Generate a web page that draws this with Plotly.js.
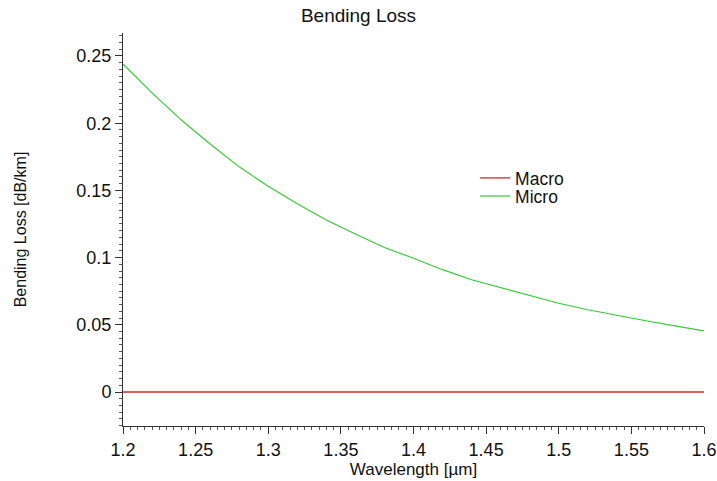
<!DOCTYPE html>
<html>
<head>
<meta charset="utf-8">
<script src="https://cdn.plot.ly/plotly-3.0.1.min.js"></script>
<style>html,body{margin:0;padding:0;background:#fff;}#chart{width:717px;height:481px;}</style>
</head>
<body>
<div id="chart"></div>
<script>
const wavelength = [1.20,1.22,1.24,1.26,1.28,1.30,1.32,1.34,1.36,1.38,1.40,1.42,1.44,1.46,1.48,1.50,1.52,1.54,1.56,1.58,1.60];
const microLoss = [0.244,0.2225,0.2025,0.1845,0.1675,0.1530,0.1400,0.1280,0.1175,0.1075,0.0995,0.0910,0.0835,0.0775,0.0715,0.0660,0.0612,0.0570,0.0530,0.0492,0.0455];
const macroLoss = [0,0,0,0,0,0,0,0,0,0,0,0,0,0,0,0,0,0,0,0,0];
const xTicks = [1.2,1.25,1.3,1.35,1.4,1.45,1.5,1.55,1.6];
const yTicks = [0,0.05,0.1,0.15,0.2,0.25];

const fam = 'Liberation Sans, Arial, sans-serif';
const col = '#111';
const traces = [
  {x: wavelength, y: macroLoss, name: 'Macro', mode: 'lines', legend: 'legend', line: {color: 'rgb(215,40,40)', width: 1.3}},
  {x: wavelength, y: microLoss, name: 'Micro', mode: 'lines', legend: 'legend2', line: {color: 'rgb(55,200,55)', width: 1.2}}
];
const legFont = {family: fam, size: 17.5, color: col};
const layout = {
  width: 717, height: 481,
  margin: {l: 123, r: 13, t: 33, b: 55},
  paper_bgcolor: '#fff', plot_bgcolor: '#fff',
  font: {family: fam, size: 18, color: col},
  title: {text: 'Bending Loss', font: {family: fam, size: 19, color: col}, x: 0.5, xanchor: 'center', y: 0.969, yanchor: 'middle'},
  showlegend: true,
  legend: {x: 0.606, y: 0.631, xanchor: 'left', yanchor: 'middle', bgcolor: 'rgba(0,0,0,0)', font: legFont, itemwidth: 30},
  legend2: {x: 0.606, y: 0.585, xanchor: 'left', yanchor: 'middle', bgcolor: 'rgba(0,0,0,0)', font: legFont, itemwidth: 30},
  xaxis: {
    range: [1.2, 1.6], tickvals: xTicks, ticktext: xTicks.map(String),
    showgrid: false, zeroline: false, showline: true, linecolor: '#333', linewidth: 1,
    ticks: 'outside', ticklen: 7, tickcolor: '#333',
    minor: {dtick: 0.005, ticks: 'outside', ticklen: 3, tickcolor: '#555', showgrid: false},
    title: {text: 'Wavelength [µm]', font: {family: fam, size: 17, color: col}, standoff: 3},
    tickfont: {family: fam, size: 18, color: col}
  },
  yaxis: {
    range: [-0.0253, 0.2671], tickvals: yTicks, ticktext: yTicks.map(String),
    showgrid: false, zeroline: false, showline: true, linecolor: '#333', linewidth: 1,
    ticks: 'outside', ticklen: 7, tickcolor: '#333',
    minor: {dtick: 0.005, ticks: 'outside', ticklen: 3, tickcolor: '#555', showgrid: false},
    title: {text: 'Bending Loss [dB/km]', font: {family: fam, size: 16, color: col}, standoff: 45},
    tickfont: {family: fam, size: 18, color: col}
  }
};
Plotly.newPlot('chart', traces, layout, {displayModeBar: false, staticPlot: true});
</script>
</body>
</html>
